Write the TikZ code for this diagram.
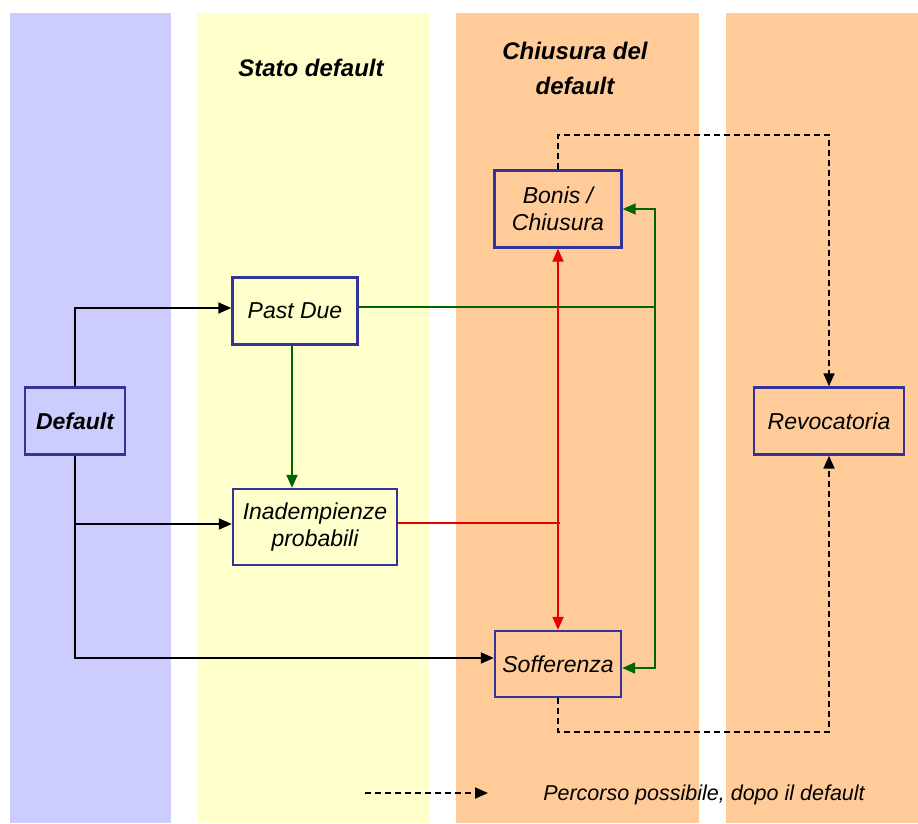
\documentclass[tikz,border=0pt]{standalone}
\usepackage{fontspec}
\setmainfont{Liberation Sans}
\usetikzlibrary{arrows.meta}
\definecolor{bgblue}{HTML}{CCCCFF}
\definecolor{bgyellow}{HTML}{FFFFCC}
\definecolor{bgorange}{HTML}{FFCC99}
\definecolor{boxblue}{HTML}{333399}
\definecolor{dgreen}{HTML}{006600}
\definecolor{dred}{HTML}{E60000}
\begin{document}
\begin{tikzpicture}[x=1pt,y=-1pt,
  stbox/.style={draw=boxblue,line width=2.4pt,inner sep=2pt,align=center,font=\fontsize{23}{27}\selectfont\itshape},
  conn/.style={line width=2pt,-{Triangle[length=13pt,width=11pt]}},
  plain/.style={line width=2pt},
  dashline/.style={line width=2pt,dash pattern=on 6pt off 4pt}]
\useasboundingbox (0,0) rectangle (918,823);
\fill[bgblue] (10,13) rectangle (171,823);
\fill[bgyellow] (197,13) rectangle (429,823);
\fill[bgorange] (456,13) rectangle (699,823);
\fill[bgorange] (726,13) rectangle (918,823);
\node[font=\fontsize{24}{28}\selectfont\bfseries\itshape] (h1) at (311,68) {Stato default};
\node[font=\fontsize{24}{35}\selectfont\bfseries\itshape,align=center] (h2) at (575,68) {Chiusura del\\default};
\node[stbox,minimum width=100pt,minimum height=67pt,font=\fontsize{23}{27}\selectfont\bfseries\itshape] (def) at (75,421) {Default};
\node[stbox,minimum width=125pt,minimum height=67pt] (pd) at (295,311) {Past Due};
\node[stbox,minimum width=164pt,minimum height=76pt] (inad) at (315,527) {Inadempienze\\probabili};
\node[stbox,minimum width=127pt,minimum height=77pt] (bon) at (558,209) {Bonis /\\Chiusura};
\node[stbox,minimum width=126pt,minimum height=66pt] (sof) at (558,664) {Sofferenza};
\node[stbox,minimum width=150pt,minimum height=67pt] (rev) at (829,421) {Revocatoria};
\coordinate (gx) at (655,0);
\coordinate (gv) at (292,0);
\coordinate (dt) at (0,135);
\coordinate (db) at (0,732);
% black
\draw[conn] (def.north) |- ([yshift=3pt]pd.west);
\draw[conn] (def.south) |- ([yshift=6pt]sof.west);
\draw[conn] ([yshift=3pt]def.south |- inad.west) -- ([yshift=3pt]inad.west);
% green
\draw[conn,dgreen] (gv |- pd.south) -- (gv |- inad.north);
\draw[conn,dgreen] ([yshift=4pt]pd.east) -| (gx |- bon.east) -- (bon.east);
\draw[conn,dgreen] ([yshift=4pt]gx |- pd.east) -- ([yshift=-4pt]gx |- sof.east) -- ([yshift=-4pt]sof.east);
% red
\draw[plain,dred] ([yshift=4pt]inad.east) -- ([xshift=2pt,yshift=4pt]inad.east -| bon.south);
\draw[conn,dred] ([yshift=4pt]inad.east -| bon.south) -- (bon.south);
\draw[conn,dred] ([yshift=4pt]inad.east -| sof.north) -- (sof.north);
% dashed
\draw[conn,dashline] (bon.north) |- (rev.north |- dt) -- (rev.north);
\draw[conn,dashline] (sof.south) |- (rev.south |- db) -- (rev.south);
% legend
\coordinate (l1) at (365,793);
\coordinate (l2) at (488,793);
\draw[conn,dashline] (l1) -- (l2);
\node[font=\fontsize{21.5}{26}\selectfont\itshape] (leg) at (704,795) {Percorso possibile, dopo il default};
\end{tikzpicture}
\end{document}
